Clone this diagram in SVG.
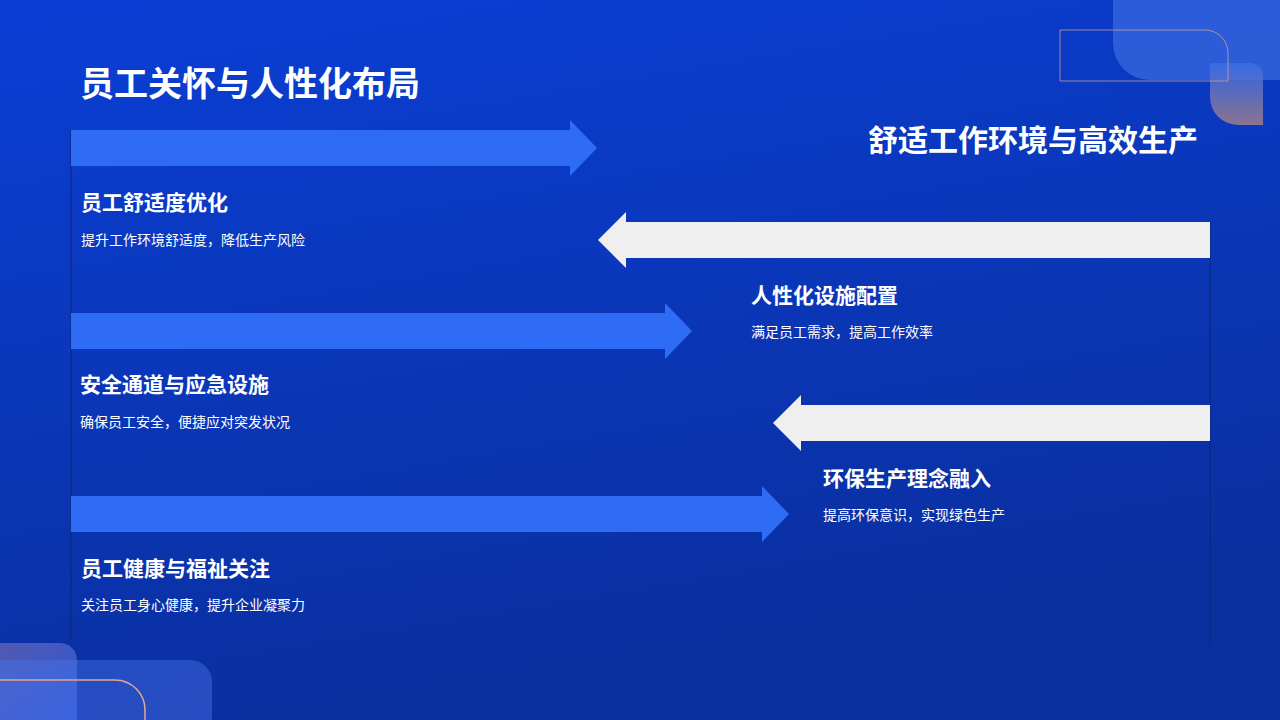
<svg xmlns="http://www.w3.org/2000/svg" width="1280" height="720" viewBox="0 0 1280 720">
<defs>
<linearGradient id="bg" x1="0" y1="0" x2="0.3" y2="1"><stop offset="0" stop-color="#0a3fd6"/><stop offset="1" stop-color="#0a2f9e"/></linearGradient>
<linearGradient id="lf" x1="0" y1="0" x2="0" y2="1"><stop offset="0" stop-color="#3b6ee6" stop-opacity="0.8"/><stop offset="1" stop-color="#9a7a8a" stop-opacity="0.9"/></linearGradient>
<linearGradient id="lf2" x1="0" y1="0" x2="1" y2="1"><stop offset="0" stop-color="#8a78b8" stop-opacity="0.8"/><stop offset="1" stop-color="#4a74ff" stop-opacity="0.8"/></linearGradient>
<style>
.t{font-family:"Noto Sans CJK SC","Liberation Sans",sans-serif;fill:#fff}
.h{font-size:21px;font-weight:bold}
.d{font-size:14px}
.ra{fill:#2e6cf6}
.la{fill:#efefef}
.v{stroke:#0b2a7a;stroke-width:1.2}
</style>
</defs>
<rect width="1280" height="720" fill="url(#bg)"/>
<g id="deco">
<path d="M1113 0H1280V80H1150A37 37 0 0 1 1113 43Z" fill="#3a68e0" opacity="0.75"/>
<path d="M1210 63H1250A13 13 0 0 1 1263 76V125H1238A28 28 0 0 1 1210 97Z" fill="url(#lf)"/>
<path d="M1060 30H1205A23 23 0 0 1 1228 53V81H1060Z" fill="none" stroke="#d8a890" stroke-opacity="0.7" stroke-width="1"/>
<path d="M0 643H60A17 17 0 0 1 77 660V720H0Z" fill="url(#lf2)" opacity="0.7"/>
<path d="M0 660H190A22 22 0 0 1 212 682V720H0Z" fill="#4a74e8" opacity="0.45"/>
<path d="M0 680H115A30 30 0 0 1 145 710V720" fill="none" stroke="#e0a890" stroke-width="1.5"/>
</g>
<g id="connectors">
<line class="v" x1="71" y1="130" x2="71" y2="640"/>
<line class="v" x1="1210" y1="222" x2="1210" y2="645"/>
<path class="ra" d="M71 130H570V120L597 148L570 176V166H71Z"/>
<path class="ra" d="M71 313H665V303L692 331L665 359V349H71Z"/>
<path class="ra" d="M71 496H762V486L789 514L762 542V532H71Z"/>
<path class="la" d="M1210 222H626V212L598 240L626 268V258H1210Z"/>
<path class="la" d="M1210 405H801V395L773 423L801 451V441H1210Z"/>
</g>
<text class="t" x="80" y="96" font-size="34" font-weight="bold">员工关怀与人性化布局</text>
<text class="t" x="1198" y="151" font-size="30" font-weight="bold" text-anchor="end">舒适工作环境与高效生产</text>
<g id="n1"><text class="t h" x="81" y="210">员工舒适度优化</text><text class="t d" x="81" y="245">提升工作环境舒适度，降低生产风险</text></g>
<g id="n2"><text class="t h" x="751" y="303">人性化设施配置</text><text class="t d" x="751" y="337">满足员工需求，提高工作效率</text></g>
<g id="n3"><text class="t h" x="80" y="392">安全通道与应急设施</text><text class="t d" x="80" y="427">确保员工安全，便捷应对突发状况</text></g>
<g id="n4"><text class="t h" x="823" y="486">环保生产理念融入</text><text class="t d" x="823" y="520">提高环保意识，实现绿色生产</text></g>
<g id="n5"><text class="t h" x="81" y="576">员工健康与福祉关注</text><text class="t d" x="81" y="610">关注员工身心健康，提升企业凝聚力</text></g>
</svg>
